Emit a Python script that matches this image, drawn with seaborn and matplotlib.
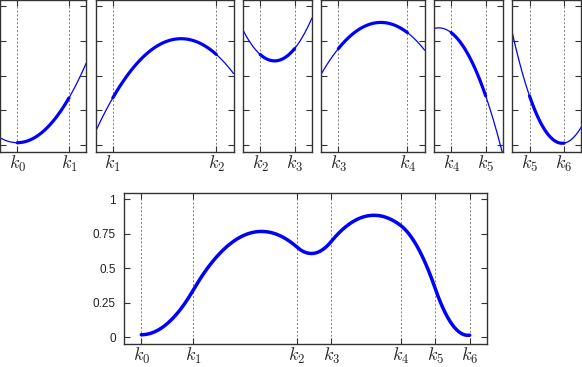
"""
Quadratic spline pieces and the assembled curve over knots k0..k6.
"""

import numpy as np
import pandas as pd
import matplotlib
matplotlib.use("Agg")
import matplotlib.pyplot as plt
import seaborn as sns

# --- data ---
KNOTS = [0.0, 1.5, 4.5, 5.5, 7.5, 8.5, 9.5]
KNOT_VALUES = [0.017, 0.34, 0.653, 0.695, 0.81, 0.354, 0.014]
START_SLOPE = 0.0
KNOT_LABELS = [r"$k_{%d}$" % i for i in range(len(KNOTS))]
Y_TICKS = [0, 0.25, 0.5, 0.75, 1]
Y_TICK_LABELS = ["0", "0.25", "0.5", "0.75", "1"]

# --- style ---
CURVE_COLOR = "#0000ff"
FRAME_COLOR = "#333333"
GRID_COLOR = "#808080"
PX_PER_UNIT = 34.5
PANEL_GAP = 9.3
FIG_W, FIG_H = 582, 367

sns.set_theme(style="ticks")
plt.rcParams["font.family"] = ["Liberation Sans", "DejaVu Sans"]
plt.rcParams["mathtext.fontset"] = "cm"


def piece_coeffs(knots, values, slope0):
    """Each piece as (x0, y0, slope at x0, curvature) for a C1 quadratic spline."""
    pieces = []
    d = slope0
    for i in range(len(knots) - 1):
        h = knots[i + 1] - knots[i]
        dy = values[i + 1] - values[i]
        c = (dy - d * h) / h ** 2
        pieces.append((knots[i], values[i], d, c))
        d = 2 * dy / h - d
    return pieces


def eval_piece(piece, x):
    x0, y0, d, c = piece
    t = x - x0
    return y0 + d * t + c * t ** 2


def style_axes(ax, xlim, ticks, labels, show_y_labels):
    ax.set_xlim(*xlim)
    ax.set_ylim(-0.05, 1.045)
    ax.set_xticks(ticks)
    ax.set_xticklabels(labels, fontsize=13)
    ax.set_yticks(Y_TICKS)
    if show_y_labels:
        ax.set_yticklabels(Y_TICK_LABELS, fontsize=8.5, color="#222222")
    else:
        ax.set_yticklabels([])
    ax.grid(axis="x", linestyle=(0, (2, 2)), color=GRID_COLOR, linewidth=0.7)
    ax.grid(axis="y", visible=False)
    ax.tick_params(direction="in", top=True, right=True, length=4,
                   width=0.8, color=FRAME_COLOR)
    ax.tick_params(axis="x", pad=1.5)
    ax.tick_params(axis="y", pad=6)
    for sp in ax.spines.values():
        sp.set_visible(True)
        sp.set_color(FRAME_COLOR)
        sp.set_linewidth(1.0)
    ax.set_xlabel("")
    ax.set_ylabel("")


pieces = piece_coeffs(KNOTS, KNOT_VALUES, START_SLOPE)

fig = plt.figure(figsize=(FIG_W / 100, FIG_H / 100), dpi=100)

# --- top row: one panel per piece, extended half a unit each side ---
left_px = 0.0
top_bottom = 1 - 152 / FIG_H
for i, piece in enumerate(pieces):
    a, b = KNOTS[i], KNOTS[i + 1]
    xlim = (a - 0.5, b + 0.5)
    width_px = (xlim[1] - xlim[0]) * PX_PER_UNIT
    ax = fig.add_axes([left_px / FIG_W, top_bottom, width_px / FIG_W, 152 / FIG_H])
    left_px += width_px + PANEL_GAP

    xs_all = np.linspace(*xlim, 200)
    xs_in = np.linspace(a, b, 200)
    sns.lineplot(x=xs_all, y=eval_piece(piece, xs_all), ax=ax,
                 color=CURVE_COLOR, linewidth=0.9)
    sns.lineplot(x=xs_in, y=eval_piece(piece, xs_in), ax=ax,
                 color=CURVE_COLOR, linewidth=2.3)
    style_axes(ax, xlim, [a, b], KNOT_LABELS[i:i + 2], False)

# --- bottom: the full spline ---
frames = []
for i, piece in enumerate(pieces):
    xs = np.linspace(KNOTS[i], KNOTS[i + 1], 150)
    frames.append(pd.DataFrame({"x": xs, "y": eval_piece(piece, xs)}))
curve = pd.concat(frames, ignore_index=True)

ax = fig.add_axes([124 / FIG_W, 1 - 344 / FIG_H, 363 / FIG_W, 151 / FIG_H])
sns.lineplot(data=curve, x="x", y="y", ax=ax, color=CURVE_COLOR,
             linewidth=2.5, sort=False, estimator=None)
style_axes(ax, (-0.5, 10.0), KNOTS, KNOT_LABELS, True)

fig.savefig("out.png", dpi=100)
